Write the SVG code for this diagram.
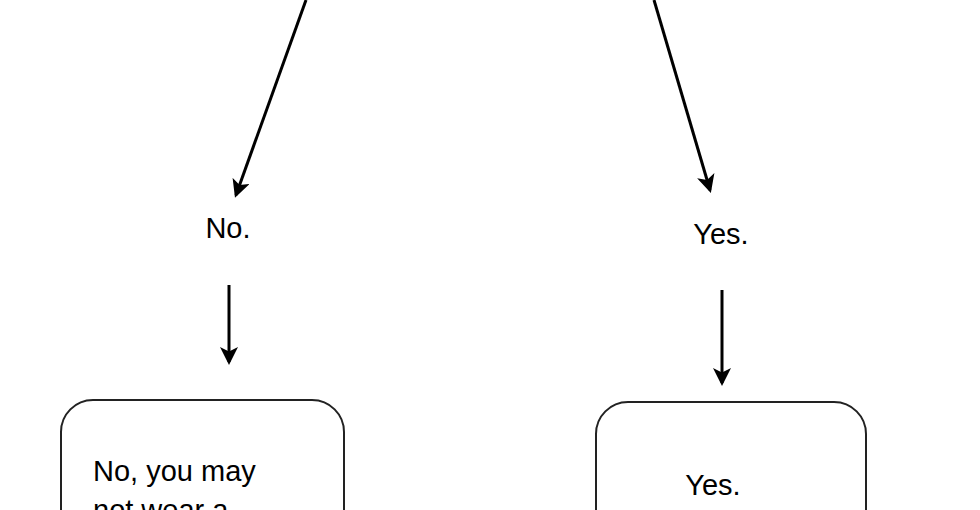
<svg xmlns="http://www.w3.org/2000/svg" width="980" height="510" viewBox="0 0 980 510">
<style>
.c{stroke:#000;stroke-width:3;fill:none}
.b{fill:#fff;stroke:#222;stroke-width:2}
text{font-family:"Liberation Sans",Arial,sans-serif;font-size:29px;fill:#000}
</style>
<defs><marker id="a" markerWidth="6" markerHeight="6" refX="5" refY="3" orient="auto" markerUnits="strokeWidth"><path d="M0,0L6,3L0,6L1.5,3Z" fill="#000"/></marker></defs>
<rect width="980" height="510" fill="#fff"/>
<g id="connectors">
<line class="c" x1="306" y1="0" x2="236" y2="195" marker-end="url(#a)"/>
<line class="c" x1="654" y1="0" x2="710" y2="190" marker-end="url(#a)"/>
<line class="c" x1="229" y1="285" x2="229" y2="362" marker-end="url(#a)"/>
<line class="c" x1="722" y1="290" x2="722" y2="383" marker-end="url(#a)"/>
</g>
<g id="no"><text x="228" y="238" text-anchor="middle">No.</text></g>
<g id="yes"><text x="721" y="244" text-anchor="middle">Yes.</text></g>
<g id="nobox"><rect class="b" x="61" y="400" width="283" height="160" rx="32"/>
<text x="93" y="481">No, you may</text><text x="93" y="520">not wear a</text></g>
<g id="yesbox"><rect class="b" x="596" y="402" width="270" height="160" rx="32"/>
<text x="713" y="495" text-anchor="middle">Yes.</text></g>
</svg>
